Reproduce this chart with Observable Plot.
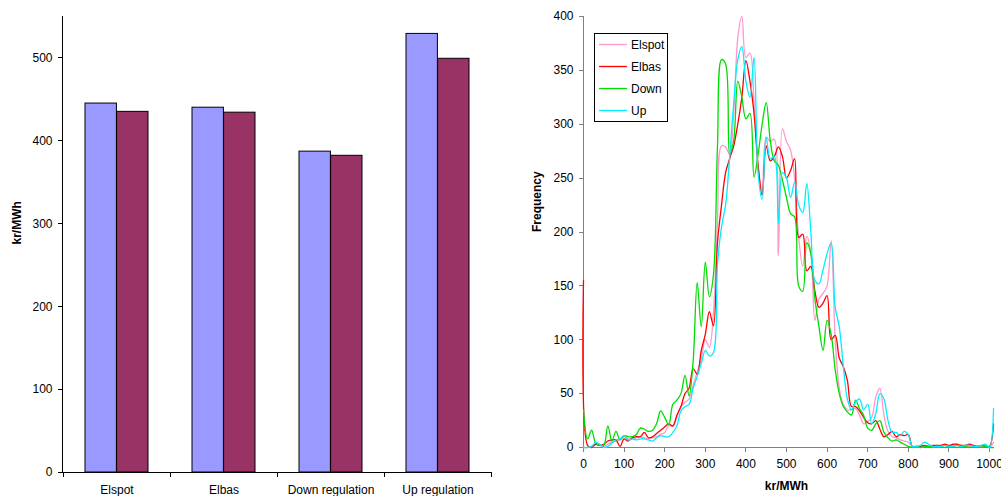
<!DOCTYPE html>
<html>
<head>
<meta charset="utf-8">
<script src="https://cdn.jsdelivr.net/npm/d3@7"></script>
<script src="https://cdn.jsdelivr.net/npm/@observablehq/plot@0.6"></script>
<style>
  html, body { margin: 0; padding: 0; background: #fff; }
  #wrap { position: relative; width: 1001px; height: 496px; overflow: hidden; font-family: "Liberation Sans", Arial, sans-serif; }
  #left { position: absolute; left: 0; top: 0; width: 500px; height: 496px; }
  #right { position: absolute; left: 500px; top: 0; width: 501px; height: 496px; }
</style>
</head>
<body>
<div id="wrap"><div id="left"></div><div id="right"></div></div>
<script>
// ---------- Left chart data ----------
const categories = ["Elspot", "Elbas", "Down regulation", "Up regulation"];
const seriesA = [445, 440, 387, 529];
const seriesB = [435, 434, 382, 499];
const barTicks = [0, 100, 200, 300, 400, 500];

// ---------- Right chart data ----------
const priceBins = [0,10,20,30,40,50,60,70,80,90,100,110,120,130,140,150,160,170,180,190,200,210,220,230,240,250,260,270,280,290,300,310,320,330,340,350,360,370,380,390,400,410,420,430,440,450,460,470,480,490,500,510,520,530,540,550,560,570,580,590,600,610,620,630,640,650,660,670,680,690,700,710,720,730,740,750,760,770,780,790,800,810,820,830,840,850,860,870,880,890,900,910,920,930,940,950,960,970,980,990,1000,1010];
const elspot = [0,0,1,3,2,1,3,5,6,7,10,8,8,9,10,9,8,9,10,12,14,20,20,28,38,42,45,58,70,82,100,93,125,210,280,279,272,310,380,400,362,366,320,262,238,288,284,286,178,296,284,276,250,195,168,196,180,118,138,143,150,192,100,55,40,35,35,36,30,22,24,28,47,55,30,15,10,9,7,6,5,1,1,0,1,1,2,1,1,2,1,2,2,1,2,1,2,1,1,2,0,5];
const elbas = [155,2,0,3,2,3,6,7,7,1,8,6,9,10,10,14,9,10,13,16,19,22,20,30,38,50,55,73,68,90,105,126,113,190,225,255,268,280,300,325,359,340,310,262,234,280,266,270,279,270,250,257,268,195,198,164,168,145,130,134,141,100,104,83,75,62,38,38,34,28,23,22,25,17,10,12,15,10,12,11,12,1,1,1,2,1,2,2,2,3,2,3,3,2,2,3,2,1,2,1,1,22];
const down = [35,8,16,4,2,2,20,6,15,7,11,10,10,12,18,17,15,16,22,34,28,21,40,44,50,67,48,80,153,112,172,140,160,280,360,356,272,285,340,325,305,310,251,272,300,320,285,266,262,248,232,217,214,150,145,190,180,138,112,90,118,105,72,50,38,33,30,44,36,30,18,16,22,25,14,9,6,7,5,3,1,0,1,0,1,1,0,1,1,0,1,1,0,1,1,0,1,1,0,1,0,0];
const up = [0,0,1,5,3,0,1,4,7,8,11,7,8,7,8,8,7,6,9,11,10,10,14,20,34,38,40,55,66,78,90,85,88,170,205,225,270,320,360,372,340,325,362,255,230,288,268,270,208,255,250,232,246,225,218,245,200,155,152,165,180,190,130,112,75,45,35,42,45,35,40,22,32,50,45,25,14,14,11,15,12,1,1,2,5,3,1,1,1,2,1,1,2,1,2,2,1,1,2,3,0,36];
const seriesNames = ["Elspot", "Elbas", "Down", "Up"];
const seriesColors = ["#ff99cc", "#ff0000", "#00dd00", "#00eeff"];
const freqTicks = [0, 50, 100, 150, 200, 250, 300, 350, 400];
const priceTicks = [0, 100, 200, 300, 400, 500, 600, 700, 800, 900, 1000];

const FONT = '"Liberation Sans", Arial, sans-serif';

// ---------- Left: grouped bars ----------
const barData = categories.map((c, i) => ({cat: c, a: seriesA[i], b: seriesB[i]}));

function leftAxes(index, scales, values, dims) {
  const g = d3.create("svg:g").attr("stroke", "#000").attr("stroke-width", 1).attr("fill", "none");
  const l = dims.marginLeft, t = dims.marginTop, r = dims.width - dims.marginRight, b = dims.height - dims.marginBottom;
  g.append("line").attr("x1", l + 0.5).attr("x2", l + 0.5).attr("y1", t).attr("y2", b + 0.5);
  g.append("line").attr("x1", l).attr("x2", r + 0.5).attr("y1", b + 0.5).attr("y2", b + 0.5);
  for (const v of barTicks) {
    const y = Math.round(scales.y(v)) + 0.5;
    g.append("line").attr("x1", l - 4).attr("x2", l).attr("y1", y).attr("y2", y);
  }
  const edges = categories.map(c => scales.x(c)).concat([r]);
  for (const x of edges) {
    const xx = Math.round(x) + 0.5;
    g.append("line").attr("x1", xx).attr("x2", xx).attr("y1", b).attr("y2", b + 5);
  }
  return g.node();
}

const left = Plot.plot({
  width: 500,
  height: 496,
  marginLeft: 62,
  marginRight: 9,
  marginTop: 16,
  marginBottom: 24,
  style: {fontFamily: FONT, fontSize: "12px", color: "#000", background: "#fff", overflow: "visible"},
  x: {domain: categories, padding: 0, tickSize: 0, tickPadding: 13, label: null},
  y: {domain: [0, 550], ticks: barTicks, tickSize: 0, tickPadding: 10, label: null},
  marks: [
    Plot.barY(barData, {x: "cat", y: "a", fill: "#9999ff", stroke: "#000", strokeWidth: 1, insetLeft: 22, insetRight: 53.6}),
    Plot.barY(barData, {x: "cat", y: "b", fill: "#993366", stroke: "#000", strokeWidth: 1, insetLeft: 53.6, insetRight: 22}),
    leftAxes,
    Plot.text(["kr/MWh"], {frameAnchor: "left", dx: -45, rotate: -90, text: d => d, fontWeight: "bold", fontSize: 12})
  ]
});
document.getElementById("left").appendChild(left);

// ---------- Right: frequency lines ----------
const allSeries = [elspot, elbas, down, up];
const lineData = [];
allSeries.forEach((arr, s) => {
  arr.forEach((v, i) => lineData.push({series: seriesNames[s], price: priceBins[i], freq: v}));
});

function rightAxes(index, scales, values, dims) {
  const g = d3.create("svg:g").attr("stroke", "#808080").attr("stroke-width", 1).attr("fill", "none");
  const l = dims.marginLeft, t = dims.marginTop, r = dims.width - dims.marginRight, b = dims.height - dims.marginBottom;
  g.append("line").attr("x1", l + 0.5).attr("x2", l + 0.5).attr("y1", t).attr("y2", b + 0.5);
  g.append("line").attr("x1", l).attr("x2", r + 0.5).attr("y1", b + 0.5).attr("y2", b + 0.5);
  for (const v of freqTicks) {
    const y = Math.round(scales.y(v)) + 0.5;
    g.append("line").attr("x1", l - 4).attr("x2", l).attr("y1", y).attr("y2", y);
  }
  for (const v of priceTicks) {
    const x = Math.round(scales.x(v)) + 0.5;
    g.append("line").attr("x1", x).attr("x2", x).attr("y1", b).attr("y2", b + 5);
  }
  return g.node();
}

function legend(index, scales, values, dims) {
  const g = d3.create("svg:g").attr("text-anchor", "start");
  g.append("rect").attr("x", 94.5).attr("y", 33.5).attr("width", 73).attr("height", 88)
    .attr("fill", "#fff").attr("stroke", "#000").attr("stroke-width", 1);
  seriesNames.forEach((name, i) => {
    const y = 44.5 + 22 * i;
    g.append("line").attr("x1", 99).attr("x2", 127).attr("y1", y).attr("y2", y)
      .attr("stroke", seriesColors[i]).attr("stroke-width", 1.3);
    g.append("text").attr("x", 131).attr("y", y).attr("dy", "0.35em").attr("text-anchor", "start")
      .attr("fill", "#000").attr("font-size", 12).attr("font-family", FONT).text(name);
  });
  return g.node();
}

const right = Plot.plot({
  width: 501,
  height: 496,
  marginLeft: 83,
  marginRight: 12,
  marginTop: 16,
  marginBottom: 49,
  style: {fontFamily: FONT, fontSize: "12px", color: "#000", background: "#fff", overflow: "visible"},
  x: {domain: [0, 1000], ticks: priceTicks, tickFormat: d => String(d), tickSize: 0, tickPadding: 12, label: null},
  y: {domain: [0, 400], ticks: freqTicks, tickFormat: d => String(d), tickSize: 0, tickPadding: 10, label: null},
  color: {domain: seriesNames, range: seriesColors},
  marks: [
    rightAxes,
    Plot.line(lineData, {x: "price", y: "freq", z: "series", stroke: "series", strokeWidth: 1.3, curve: "catmull-rom"}),
    legend,
    Plot.text(["Frequency"], {frameAnchor: "left", dx: -46, rotate: -90, text: d => d, fontWeight: "bold", fontSize: 12}),
    Plot.text(["kr/MWh"], {frameAnchor: "bottom", dy: 42, text: d => d, fontWeight: "bold", fontSize: 12, letterSpacing: "0.5px"})
  ]
});
document.getElementById("right").appendChild(right);
</script>
</body>
</html>
